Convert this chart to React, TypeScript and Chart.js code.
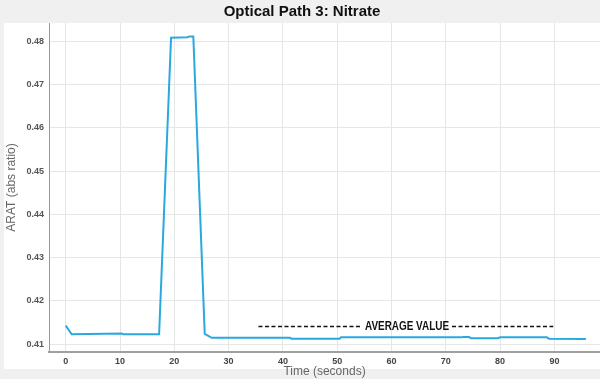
import React, { useEffect, useRef } from "react";
import { Chart, registerables } from "chart.js";

Chart.register(...registerables);

const timeSeconds = [0, 1.1, 10.3, 10.6, 17.2, 19.4, 22.4, 22.8, 23.5, 25.6, 26.9, 27.9, 41.3, 41.6, 50.4, 50.7, 72.8, 73.2, 74.3, 74.6, 79.6, 80.0, 88.6, 89.0, 95.8];
const aratValues = [0.4143, 0.4123, 0.4125, 0.4123, 0.4123, 0.4808, 0.4809, 0.4811, 0.4811, 0.4124, 0.4115, 0.4115, 0.4115, 0.4113, 0.4113, 0.4116, 0.4116, 0.4117, 0.4117, 0.4114, 0.4114, 0.4116, 0.4116, 0.4113, 0.4112];

const xTicks = [0, 10, 20, 30, 40, 50, 60, 70, 80, 90];
const yTicks = [0.41, 0.42, 0.43, 0.44, 0.45, 0.46, 0.47, 0.48];

const averageValue = 0.4141;
const averageStart = 35.5;
const averageEnd = 89.8;
const averageLabel = "AVERAGE VALUE";

const chartTitle = "Optical Path 3: Nitrate";
const xTitle = "Time (seconds)";
const yTitle = "ARAT (abs ratio)";

export default function App() {
  const ref = useRef<HTMLCanvasElement | null>(null);

  useEffect(() => {
    if (!ref.current) return;
    const decor = {
      id: "decor",
      beforeDraw(chart: any) {
        const { ctx, width, height } = chart;
        ctx.save();
        ctx.fillStyle = "#f0f0f0";
        ctx.fillRect(0, 0, width, height);
        ctx.fillStyle = "#ffffff";
        ctx.fillRect(4, 23, width - 4, 346);
        ctx.restore();
      },
      afterDraw(chart: any) {
        const { ctx, chartArea } = chart;
        const xs = chart.scales.x;
        const ys = chart.scales.y;
        ctx.save();
        ctx.fillStyle = "#111";
        ctx.font = "bold 15px 'Liberation Sans', Arial, sans-serif";
        ctx.textAlign = "center";
        ctx.textBaseline = "middle";
        ctx.fillText(chartTitle, 302, 11.5);
        ctx.fillStyle = "#666";
        ctx.font = "12px 'Liberation Sans', Arial, sans-serif";
        ctx.fillText(xTitle, (chartArea.left + chartArea.right) / 2, 372);
        ctx.save();
        ctx.translate(12, (chartArea.top + chartArea.bottom) / 2);
        ctx.rotate(-Math.PI / 2);
        ctx.fillText(yTitle, 0, 0);
        ctx.restore();
        // average annotation
        const y = ys.getPixelForValue(averageValue);
        const x0 = xs.getPixelForValue(averageStart);
        const x1 = xs.getPixelForValue(averageEnd);
        const xm = 407;
        ctx.font = "bold 12px 'Liberation Sans', Arial, sans-serif";
        const raw = ctx.measureText(averageLabel).width;
        const tw = 84;
        ctx.fillStyle = "#111";
        ctx.save();
        ctx.translate(xm, y + 0.5);
        ctx.scale(tw / raw, 1);
        ctx.fillText(averageLabel, 0, 0);
        ctx.restore();
        ctx.strokeStyle = "#111";
        ctx.lineWidth = 1.5;
        ctx.setLineDash([4, 2.5]);
        ctx.beginPath();
        ctx.moveTo(x0, y);
        ctx.lineTo(xm - tw / 2 - 5, y);
        ctx.moveTo(xm + tw / 2 + 3, y);
        ctx.lineTo(x1, y);
        ctx.stroke();
        ctx.restore();
      },
    };

    const chart = new Chart(ref.current, {
      type: "line",
      data: {
        datasets: [
          {
            data: timeSeconds.map((t, i) => ({ x: t, y: aratValues[i] })),
            borderColor: "#2aa9e0",
            borderWidth: 2,
            pointRadius: 0,
            tension: 0,
            fill: false,
          },
        ],
      },
      options: {
        animation: false,
        responsive: false,
        devicePixelRatio: 1,
        layout: { padding: { top: 23, left: 0, right: 0, bottom: 0 } },
        plugins: { legend: { display: false }, title: { display: false }, tooltip: { enabled: false } },
        scales: {
          x: {
            type: "linear",
            min: -3.08,
            max: 98.4,
            afterFit: (s: any) => { s.height = 27; },
            afterBuildTicks: (s: any) => { s.ticks = xTicks.map((v) => ({ value: v })); },
            grid: { color: "#e6e6e6", drawTicks: false },
            border: { color: "#a0a0a0", width: 2 },
            ticks: {
              padding: 4,
              color: "#444",
              font: { family: "'Liberation Sans', Arial", size: 9, weight: "bold" },
              maxRotation: 0,
              callback: (v: any) => String(v),
            },
          },
          y: {
            type: "linear",
            min: 0.40822,
            max: 0.4842,
            afterFit: (s: any) => { s.width = 49; },
            afterBuildTicks: (s: any) => { s.ticks = yTicks.map((v) => ({ value: v })); },
            grid: { color: "#e6e6e6", drawTicks: false },
            border: { color: "#999999", width: 1 },
            ticks: {
              padding: 5,
              color: "#555",
              font: { family: "'Liberation Sans', Arial", size: 9, weight: "bold" },
              callback: (v: any) => Number(v).toFixed(2),
            },
          },
        },
      },
      plugins: [decor],
    });
    return () => chart.destroy();
  }, []);

  return (
    <div style={{ position: "fixed", left: 0, top: 0, width: 600, height: 379 }}>
      <canvas ref={ref} width={600} height={379} style={{ width: 600, height: 379 }} />
    </div>
  );
}
